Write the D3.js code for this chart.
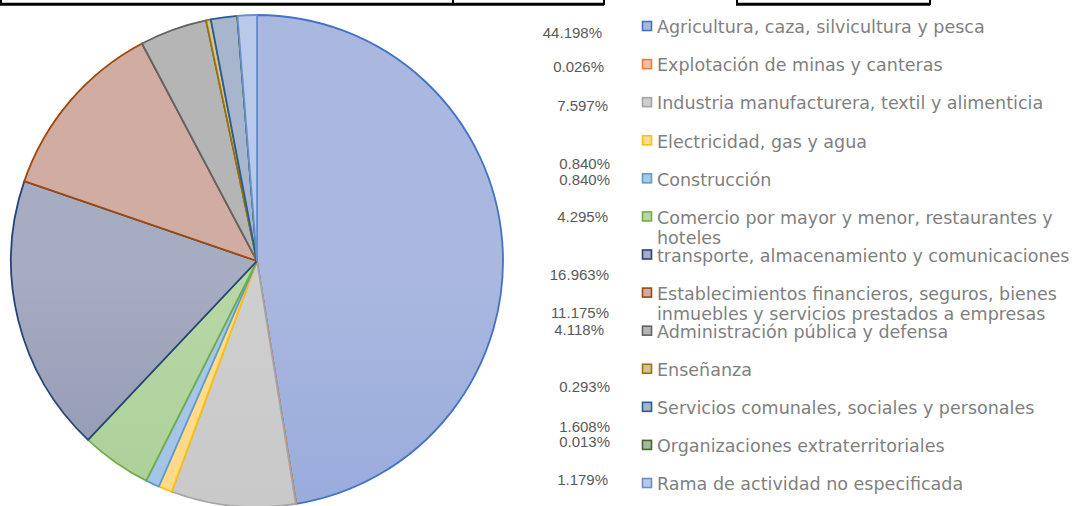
<!DOCTYPE html>
<html>
<head>
<meta charset="utf-8">
<script src="https://cdn.jsdelivr.net/npm/d3@7"></script>
<style>
  body { margin: 0; background: #fff; }
  svg { display: block; }
</style>
</head>
<body>
<svg width="1074" height="506"></svg>
<script>
var categories = [
    "Agricultura, caza, silvicultura y pesca",
    "Explotación de minas y canteras",
    "Industria manufacturera, textil y alimenticia",
    "Electricidad, gas y agua",
    "Construcción",
    "Comercio por mayor y menor, restaurantes y hoteles",
    "transporte, almacenamiento y comunicaciones",
    "Establecimientos financieros, seguros, bienes inmuebles y servicios prestados a empresas",
    "Administración pública y defensa",
    "Enseñanza",
    "Servicios comunales, sociales y personales",
    "Organizaciones extraterritoriales",
    "Rama de actividad no especificada"
];

var values = [44.198, 0.026, 7.597, 0.840, 0.840, 4.295, 16.963, 11.175, 4.118, 0.293, 1.608, 0.013, 1.179];

var strokeColors = ["#4472c4", "#ed7d31", "#a5a5a5", "#ffc000", "#5b9bd5", "#70ad47",
    "#264478", "#9e480e", "#636363", "#997300", "#255e91", "#43682b", "#698ed0"];
var topColors = ["#aab8df", "#f5bfa6", "#cfcfcf", "#ffdc91", "#a9c8e9", "#b8d7a6",
    "#a6acc1", "#d0aca2", "#b5b5b5", "#d3c29f", "#a7b5cd", "#a8b89f", "#b9c9ea"];
var bottomColors = ["#869ed8", "#efa07a", "#c2c2c2", "#ffd67f", "#9cc0e6", "#9fc98a",
    "#77819d", "#c08675", "#9f9f9f", "#c8b48d", "#95a8c5", "#9aae90", "#aec1e8"];

// label nudges so the percentages sit where the source put them
var labelDy = [6, 2, 3, 23, 1, 0, 19, 19, -2, 17, 19, -4, -4];
var labelX = [602, 604, 608, 610, 610, 608, 609, 609, 604, 610, 610, 610, 608];

var svg = d3.select("svg"),
    cx = 257, cy = 261, r = 246;

var fmt = function (v) { return d3.format(".3f")(v) + "%"; };

// table borders cut off at the top of the picture
var borders = svg.append("g").attr("stroke", "#000").attr("fill", "none");
borders.append("path").attr("stroke-width", 3)
    .attr("d", "M0,4.3 H604 M736,4.3 H930");
borders.append("path").attr("stroke-width", 2)
    .attr("d", "M1,0 V5 M453,0 V5 M604,0 V5 M737,0 V5 M930,0 V5");

var defs = svg.append("defs");
categories.forEach(function (c, i) {
    var grad = defs.append("linearGradient")
        .attr("id", "g" + i)
        .attr("gradientUnits", "userSpaceOnUse")
        .attr("x1", 0).attr("x2", 0)
        .attr("y1", cy - r).attr("y2", cy + r);
    grad.append("stop").attr("offset", "0%").attr("stop-color", topColors[i]);
    grad.append("stop").attr("offset", "100%").attr("stop-color", bottomColors[i]);
});

var pie = d3.pie().sort(null).value(function (d) { return d; });
var arc = d3.arc().innerRadius(0).outerRadius(r);

var g = svg.append("g").attr("transform", "translate(" + cx + "," + cy + ")");
g.selectAll("path")
    .data(pie(values))
    .enter().append("path")
    .attr("d", arc)
    .attr("fill", function (d, i) { return "url(#g" + i + ")"; })
    .attr("stroke", function (d, i) { return strokeColors[i]; })
    .attr("stroke-width", 1.8)
    .attr("stroke-linejoin", "round");

// legend
var rowY = d3.scaleLinear().domain([0, categories.length - 1]).range([27, 484]);
var legendFont = "'DejaVu Sans', sans-serif";

var legend = svg.append("g");

// fit the font so the longest single line spans the same width as the source
var probe = legend.append("text").attr("font-family", legendFont).attr("font-size", 100)
    .text("transporte, almacenamiento y comunicaciones");
var fontSize = 100 * 413 / probe.node().getComputedTextLength();
probe.remove();

var item = legend.selectAll("g.item")
    .data(categories)
    .enter().append("g")
    .attr("class", "item")
    .attr("transform", function (d, i) { return "translate(0," + rowY(i) + ")"; });

item.append("rect")
    .attr("x", 642.5).attr("y", -5.5)
    .attr("width", 9).attr("height", 9)
    .attr("fill", function (d, i) { return topColors[i]; })
    .attr("stroke", function (d, i) { return strokeColors[i]; })
    .attr("stroke-width", 1.6);

item.append("text")
    .attr("x", 657)
    .attr("y", fontSize * 0.36)
    .attr("font-family", legendFont)
    .attr("font-size", fontSize)
    .attr("fill", "#7f7f7f")
    .each(function (d) {
        var t = d3.select(this), node = this, words = d.split(" "), line = [], lines = [];
        words.forEach(function (w) {
            t.text(line.concat([w]).join(" "));
            if (node.getComputedTextLength() > 416 && line.length) {
                lines.push(line.join(" "));
                line = [w];
            } else {
                line.push(w);
            }
        });
        lines.push(line.join(" "));
        t.text(null);
        lines.forEach(function (l, k) {
            t.append("tspan").attr("x", 657).attr("dy", k ? 20.5 : 0).text(l);
        });
    });

// percentage labels
svg.append("g").selectAll("text")
    .data(values)
    .enter().append("text")
    .attr("x", function (d, i) { return labelX[i]; })
    .attr("y", function (d, i) { return rowY(i) + labelDy[i] + 5; })
    .attr("text-anchor", "end")
    .attr("font-family", "'Liberation Sans', Arial, sans-serif")
    .attr("font-size", 15)
    .attr("fill", "#595959")
    .text(fmt);
</script>
</body>
</html>
